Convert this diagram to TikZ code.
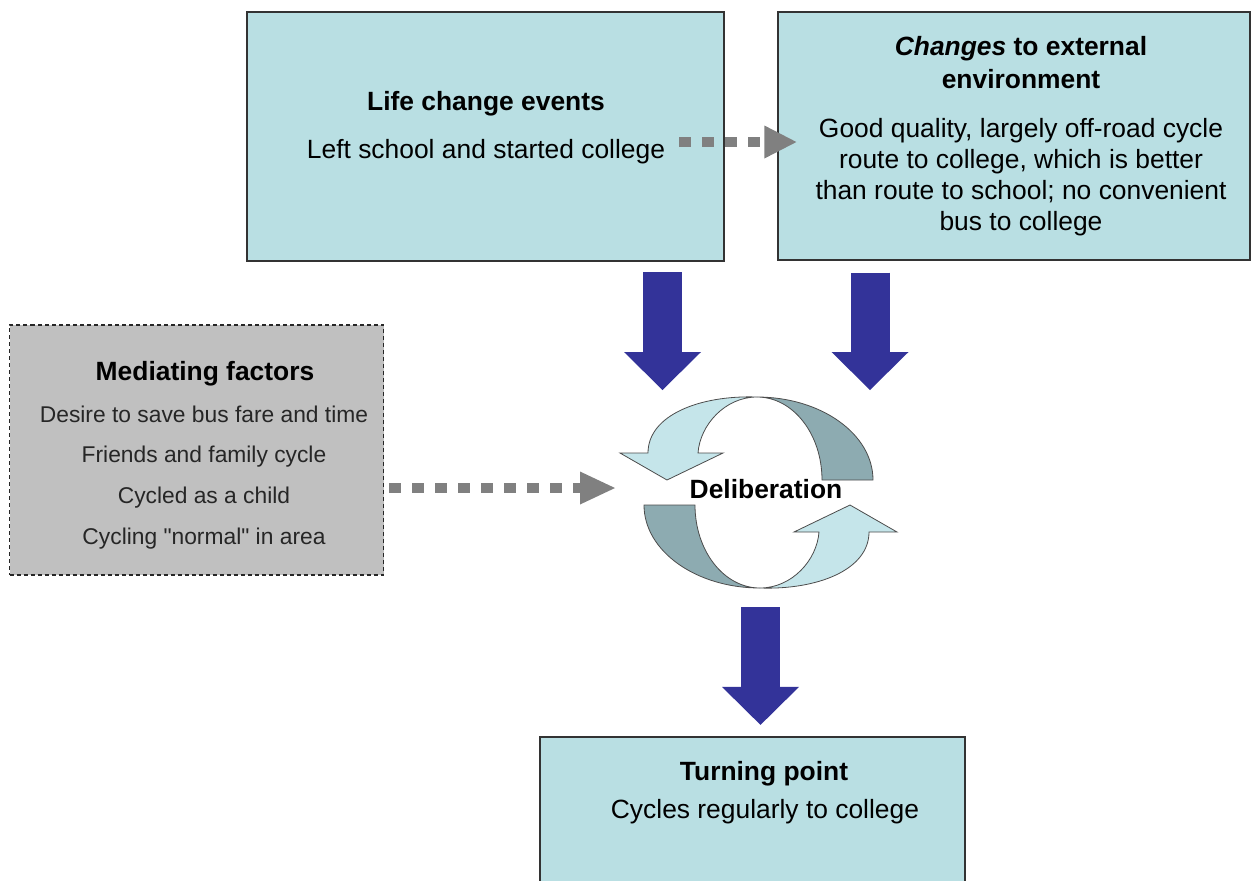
\documentclass[tikz,border=0pt]{standalone}
\usepackage{fontspec}
\setmainfont{Liberation Sans}
\usetikzlibrary{arrows.meta,calc}
\definecolor{boxblue}{RGB}{185,223,227}
\definecolor{boxgrey}{RGB}{192,192,192}
\definecolor{dotgrey}{RGB}{128,128,128}
\definecolor{navy}{RGB}{51,51,153}
\definecolor{ringlight}{RGB}{197,229,234}
\definecolor{ringdark}{RGB}{141,171,177}

\begin{document}
\begin{tikzpicture}[x=0.5pt,y=-0.5pt,
  bluebox/.style={draw=black!80,line width=0.6pt,fill=boxblue,inner sep=0pt},
  greybox/.style={draw=black!85,line width=0.6pt,dash pattern=on 2pt off 1.5pt,fill=boxgrey,inner sep=0pt},
  head/.style={inner sep=0pt,align=center,anchor=base,font=\fontsize{13.2}{16.5}\selectfont\bfseries},
  body/.style={inner sep=0pt,align=center,anchor=base,font=\fontsize{13.2}{15.5}\selectfont},
  dotarrow/.style={dotgrey,line width=5pt,dash pattern=on 6pt off 5.5pt,-{Triangle[length=16pt,width=16.5pt,line width=0pt]}},
  bluearrow/.style={navy,line width=19.5pt,-{Triangle[length=19pt,width=38.5pt,line width=0pt]}},
  ring/.style={draw=black!70,line width=0.4pt}]
\useasboundingbox (0,0) rectangle (1254,880);

% boxes
\node[bluebox,minimum width=238.5pt,minimum height=124.5pt] (life) at (485.5,136.5) {};
\node[bluebox,minimum width=236pt,minimum height=124pt] (changes) at (1014,136) {};
\node[greybox,minimum width=187pt,minimum height=125pt] (medi) at (196.5,450) {};
\node[bluebox,minimum width=212.5pt,minimum height=85pt] (turn) at (752.5,822) {};

% box texts (base = last line)
\node[head] (lifehead) at (486,110) {Life change events};
\node[body] (lifetxt) at (486,158) {Left school and started college};
\node[head] (chhead) at (1021,88) {\textit{Changes} to external\\environment};
\node[body] (chtxt) at (1021,230) {Good quality, largely off-road cycle\\route to college, which is better\\than route to school; no convenient\\bus to college};
\node[head] (medhead) at (205,380) {Mediating factors};
\node[body,font=\fontsize{11.4}{20.3}\selectfont,text=black!85] (medtxt) at (204,544) {Desire to save bus fare and time\\Friends and family cycle\\Cycled as a child\\Cycling \textquotedbl normal\textquotedbl{} in area};
\node[head] (turnhead) at (764,780) {Turning point};
\node[body] (turntxt) at (765,818) {Cycles regularly to college};

% deliberation ring
\coordinate (cyc) at (758.5,492.5);
\foreach \r in {0,180}{
  \begin{scope}[rotate around={\r:(cyc)}]
    \filldraw[ring,fill=ringdark] (757,397) .. controls (821,397) and (873,434) .. (873,480) -- (822,480) .. controls (822,434) and (793,397) .. (757,397) -- cycle;
    \filldraw[ring,fill=ringlight] (757,397) .. controls (700,395) and (648,415) .. (648,453) -- (620,453) -- (667,480) -- (723,453) -- (698,453) .. controls (700,425) and (725,397) .. (757,397) -- cycle;
  \end{scope}}
\node[font=\fontsize{13.2}{15}\selectfont\bfseries,inner sep=0pt,anchor=base] (delib) at (766,498) {Deliberation};

% connectors
\draw[dotarrow] ($(lifetxt.base east)+(14,-16)$) -- ($(changes.west)+(19,6)$);
\draw[dotarrow,-{Triangle[length=17.5pt,width=16.5pt,line width=0pt]}] ($(medi.east)+(5,38)$) -- ($(cyc)+(-143.5,-4.5)$);
\draw[bluearrow] ($(life.south)+(177,10.5)$) -- ($(cyc)+(-96,-102.5)$);
\draw[bluearrow] ($(changes.south)+(-144,12)$) -- ($(cyc)+(111.5,-102.5)$);
\draw[bluearrow] ($(cyc)+(2,114.5)$) -- ($(turn.north)+(8,-11.5)$);
\end{tikzpicture}
\end{document}
